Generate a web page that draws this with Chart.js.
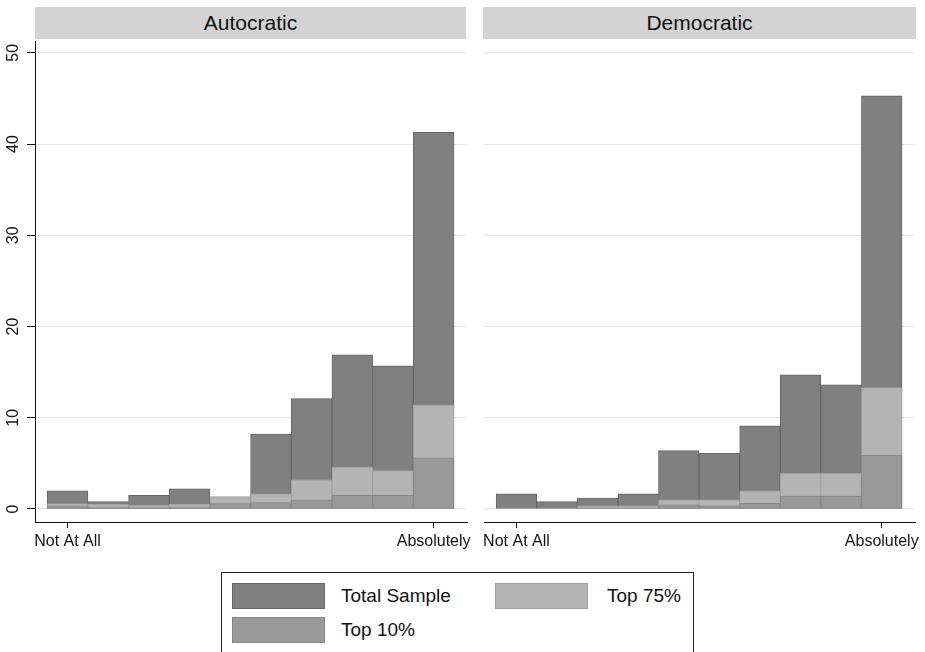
<!DOCTYPE html>
<html>
<head>
<meta charset="utf-8">
<script src="https://cdn.jsdelivr.net/npm/chart.js@4/dist/chart.umd.min.js"></script>
<style>
  html, body { margin: 0; padding: 0; background: #fff; }
  body { width: 925px; height: 652px; position: relative; overflow: hidden;
         font-family: "Liberation Sans", Arial, Helvetica, sans-serif; color: #111; }
  .strip { position: absolute; top: 7px; height: 32px; background: #d3d3d3;
           font-size: 21px; line-height: 32px; text-align: center; }
  .panel { position: absolute; top: 0; height: 560px; }
  #legend { position: absolute; left: 221px; top: 572px; width: 473px; height: 100px;
            border: 1px solid #222; box-sizing: border-box; background: #fff; }
  .sw { position: absolute; width: 93px; height: 26px; box-sizing: border-box; border: 1px solid; }
  .lt { position: absolute; font-size: 19px; line-height: 26px; white-space: nowrap; }
</style>
</head>
<body>
<div class="strip" id="stripA" style="left:35px;width:431px;"></div>
<div class="strip" id="stripD" style="left:483px;width:433px;"></div>
<canvas class="panel" id="panelA" width="480" height="560" style="left:0;width:480px;"></canvas>
<canvas class="panel" id="panelD" width="455" height="560" style="left:470px;width:455px;"></canvas>
<div id="legend"></div>

<script>
// Response bins (1 = "Not At All" ... 10 = "Absolutely")
const bins = [1, 2, 3, 4, 5, 6, 7, 8, 9, 10];
const xTickValues = [1, 10];
const xTickLabels = ['Not At All', 'Absolutely'];
const yTickValues = [0, 10, 20, 30, 40, 50];

const panelTitles = ['Autocratic', 'Democratic'];
const seriesNames = ['Total Sample', 'Top 75%', 'Top 10%'];

// Percent of respondents per bin
const autocraticTotal = [2.0, 0.8, 1.5, 2.2, 1.2, 8.2, 12.1, 16.9, 15.7, 41.3];
const autocraticTop75 = [0.6, 0.5, 0.4, 0.5, 1.35, 1.65, 3.2, 4.6, 4.2, 11.4];
const autocraticTop10 = [0.3, 0.2, 0.2, 0.2, 0.6, 0.7, 1.0, 1.5, 1.5, 5.6];

const democraticTotal = [1.65, 0.8, 1.2, 1.65, 6.4, 6.1, 9.1, 14.7, 13.6, 45.3];
const democraticTop75 = [0.05, 0.05, 0.33, 0.33, 1.0, 1.0, 2.0, 3.9, 3.9, 13.3];
const democraticTop10 = [0.0, 0.0, 0.1, 0.1, 0.45, 0.33, 0.62, 1.4, 1.4, 5.9];

const FONT = '"Liberation Sans", Arial, Helvetica, sans-serif';
const FILL = ['#808080', '#b4b4b4', '#999999'];
const EDGE = ['#666666', '#a0a0a0', '#878787'];

Chart.defaults.font.family = FONT;

document.getElementById('stripA').textContent = panelTitles[0];
document.getElementById('stripD').textContent = panelTitles[1];

function points(vals) {
  return bins.map((b, i) => ({ x: b, y: vals[i] }));
}

function buildPanel(canvasId, series, showY, yWidth, padRight) {
  return new Chart(document.getElementById(canvasId), {
    type: 'bar',
    data: {
      datasets: series.map((vals, k) => ({
        label: seriesNames[k],
        data: points(vals),
        order: 3 - k,              // total behind, top 10% in front
        backgroundColor: FILL[k],
        borderColor: EDGE[k],
        borderWidth: 1,
        borderSkipped: false,
        barPercentage: 1,
        categoryPercentage: 1,
        grouped: false
      }))
    },
    options: {
      responsive: false,
      animation: false,
      events: [],
      layout: { padding: { top: 41, right: padRight, left: 0, bottom: 0 } },
      plugins: { legend: { display: false }, tooltip: { enabled: false } },
      scales: {
        x: {
          type: 'linear', min: 0.2, max: 10.82, offset: false,
          afterBuildTicks: s => { s.ticks = xTickValues.map(v => ({ value: v })); },
          afterFit: s => { s.height = 38; },
          ticks: {
            autoSkip: false, maxRotation: 0, minRotation: 0, padding: 4,
            color: '#111', font: { size: 16 },
            callback: v => { const i = xTickValues.indexOf(v); return i >= 0 ? xTickLabels[i] : ''; }
          },
          grid: { offset: false, drawOnChartArea: false, drawTicks: true, tickLength: 6, tickColor: '#111', color: '#111' },
          border: { display: true, color: '#111', width: 1 }
        },
        y: {
          type: 'linear', min: -1.43, max: 51.3,
          afterBuildTicks: s => { s.ticks = yTickValues.map(v => ({ value: v })); },
          afterFit: s => { s.width = yWidth; },
          ticks: {
            display: showY, minRotation: 90, maxRotation: 90, crossAlign: 'center',
            padding: 5, color: '#111', font: { size: 16 }
          },
          grid: { color: '#e6e6e6', lineWidth: 1, drawTicks: showY, tickLength: 8, tickColor: '#111' },
          border: { display: showY, color: '#111', width: 1 }
        }
      }
    }
  });
}

buildPanel('panelA', [autocraticTotal, autocraticTop75, autocraticTop10], true, 35, 13);
buildPanel('panelD', [democraticTotal, democraticTop75, democraticTop10], false, 14, 10);

// Legend box
const legend = document.getElementById('legend');
const legendSlots = [
  { sw: [10, 10], tx: [119, 10] },
  { sw: [273, 10], tx: [385, 10] },
  { sw: [10, 44], tx: [119, 44] }
];
seriesNames.forEach((name, k) => {
  const sw = document.createElement('div');
  sw.className = 'sw';
  sw.style.left = legendSlots[k].sw[0] + 'px';
  sw.style.top = legendSlots[k].sw[1] + 'px';
  sw.style.background = FILL[k];
  sw.style.borderColor = EDGE[k];
  legend.appendChild(sw);
  const tx = document.createElement('div');
  tx.className = 'lt';
  tx.style.left = legendSlots[k].tx[0] + 'px';
  tx.style.top = legendSlots[k].tx[1] + 'px';
  tx.textContent = name;
  legend.appendChild(tx);
});
</script>
</body>
</html>
